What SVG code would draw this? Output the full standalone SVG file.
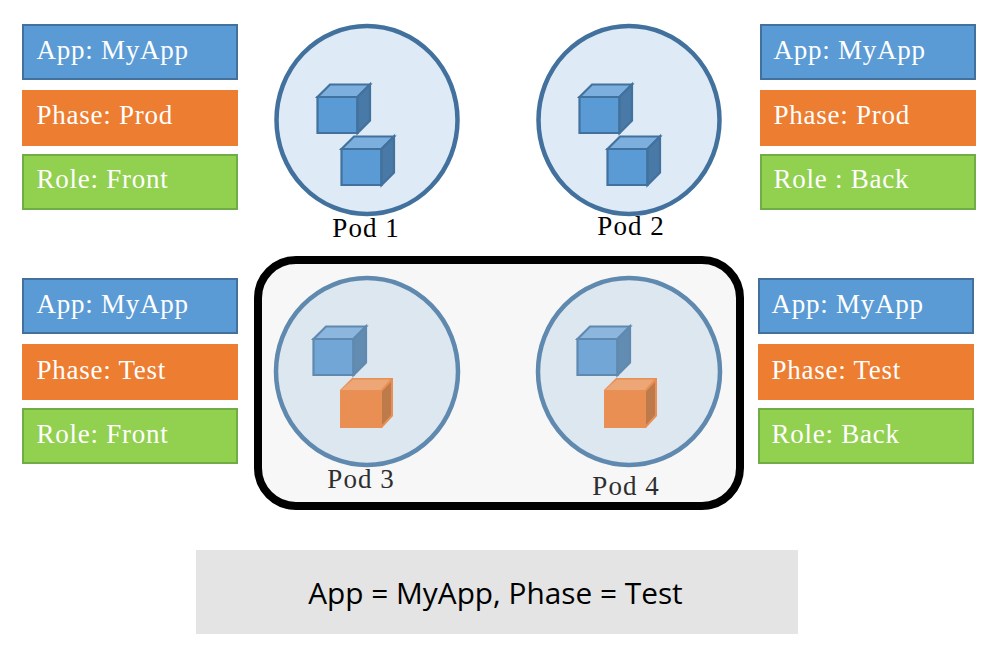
<svg xmlns="http://www.w3.org/2000/svg" width="994" height="656" viewBox="0 0 994 656">
<style>
.lb{stroke-width:2}
.app{fill:#5b9bd5;stroke:#41719c}
.ph{fill:#ed7d31;stroke:#ed7d31}
.ro{fill:#92d050;stroke:#70ad47}
.t{font-family:"Liberation Serif","DejaVu Serif",serif;font-size:27px;fill:#fff;letter-spacing:.75px}
.pl{font-family:"Liberation Serif","DejaVu Serif",serif;font-size:27px;fill:#000;letter-spacing:1px;text-anchor:middle}
.dim{fill:#2e2e2e}
.pod{fill:#deeaf6;stroke:#41719c;stroke-width:4.500}
.podd{fill:#dde7f0;stroke:#5f89ae;stroke-width:4.500}
.s{stroke-width:2.200;stroke-linejoin:miter}
</style>
<defs>
<g id="cube">
<path class="s" fill="#5b9bd5" stroke="#41719c" d="M0 12.500H40V48.500H0Z"/>
<path class="s" fill="#7cafde" stroke="#41719c" d="M0 12.500L12.500 0H52.500L40 12.500Z"/>
<path class="s" fill="#4979a6" stroke="#41719c" d="M40 12.500L52.500 0V36L40 48.500Z"/>
</g>
<g id="cube-dim">
<path class="s" fill="#72a6d6" stroke="#5f89ae" d="M0 12.500H40V48.500H0Z"/>
<path class="s" fill="#8cb6dd" stroke="#5f89ae" d="M0 12.500L12.500 0H52.500L40 12.500Z"/>
<path class="s" fill="#628cb2" stroke="#5f89ae" d="M40 12.500L52.500 0V36L40 48.500Z"/>
</g>
<g id="cube-orange">
<path fill="#e98f54" d="M0 12L12 0H53V38L42 50H0Z"/>
<path fill="#eda675" d="M1 12L13 1.500H50L41 12Z"/>
<path fill="#bd7a4a" d="M42 13.500L51 4V37L42 47Z"/>
</g>
</defs>
<g id="selection"><rect x="258" y="260" width="482" height="246" rx="38" fill="#f7f7f7" stroke="#000" stroke-width="8"/></g>
<g id="pod1"><ellipse class="pod" cx="367" cy="120" rx="90.500" ry="94"/>
<use href="#cube" x="317.500" y="84.500"/><use href="#cube" x="341.500" y="136.500"/>
<text class="pl" x="366" y="237">Pod 1</text></g>
<g id="pod2"><ellipse class="pod" cx="629" cy="120" rx="90.500" ry="94"/>
<use href="#cube" x="579.500" y="84.500"/><use href="#cube" x="607.500" y="136.500"/>
<text class="pl" x="631" y="235">Pod 2</text></g>
<g id="pod3"><ellipse class="podd" cx="367" cy="371.500" rx="91" ry="93.500"/>
<use href="#cube-dim" x="313.500" y="326.500"/><use href="#cube-orange" x="340" y="378"/>
<text class="pl dim" x="361" y="488">Pod 3</text></g>
<g id="pod4"><ellipse class="podd" cx="629" cy="371.500" rx="91" ry="93.500"/>
<use href="#cube-dim" x="577.500" y="326.500"/><use href="#cube-orange" x="604" y="378"/>
<text class="pl dim" x="626" y="495">Pod 4</text></g>
<g id="labels-pod1">
<rect class="lb app" x="23" y="25" width="214" height="54"/><text class="t" x="36.500" y="58.500">App: MyApp</text>
<rect class="lb ph" x="23" y="91" width="214" height="54"/><text class="t" x="36.500" y="123.500">Phase: Prod</text>
<rect class="lb ro" x="23" y="155" width="214" height="54"/><text class="t" x="36.500" y="187.500">Role: Front</text>
</g>
<g id="labels-pod2">
<rect class="lb app" x="761" y="25" width="214" height="54"/><text class="t" x="773.500" y="58.500">App: MyApp</text>
<rect class="lb ph" x="761" y="91" width="214" height="54"/><text class="t" x="773.500" y="123.500">Phase: Prod</text>
<rect class="lb ro" x="761" y="155" width="214" height="54"/><text class="t" x="773.500" y="187.500">Role : Back</text>
</g>
<g id="labels-pod3">
<rect class="lb app" x="23" y="279" width="214" height="54"/><text class="t" x="36.500" y="312.500">App: MyApp</text>
<rect class="lb ph" x="23" y="345" width="214" height="54"/><text class="t" x="36.500" y="378.500">Phase: Test</text>
<rect class="lb ro" x="23" y="409" width="214" height="54"/><text class="t" x="36.500" y="442.500">Role: Front</text>
</g>
<g id="labels-pod4">
<rect class="lb app" x="759" y="279" width="214" height="54"/><text class="t" x="771.500" y="312.500">App: MyApp</text>
<rect class="lb ph" x="759" y="345" width="214" height="54"/><text class="t" x="771.500" y="378.500">Phase: Test</text>
<rect class="lb ro" x="759" y="409" width="214" height="54"/><text class="t" x="771.500" y="442.500">Role: Back</text>
</g>
<g id="selector"><rect x="196" y="550" width="602" height="84" fill="#e4e4e4"/>
<text x="495.500" y="604" text-anchor="middle" font-family="'Open Sans','Noto Sans',sans-serif" font-size="29.800" fill="#000">App = MyApp, Phase = Test</text></g>
<g id="connectors"/>
</svg>
